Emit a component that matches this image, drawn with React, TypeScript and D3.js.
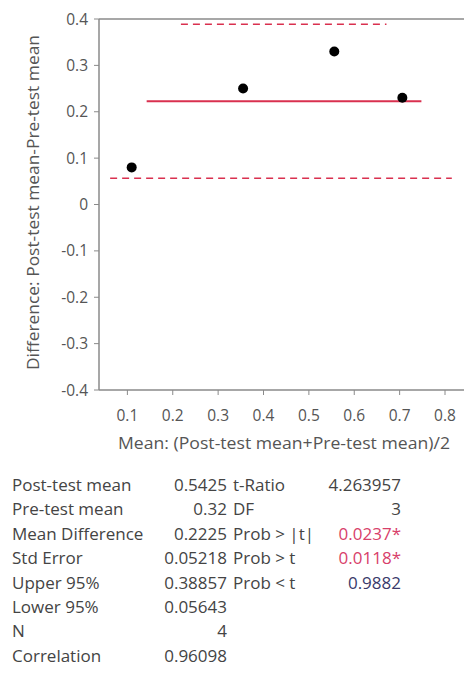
import React from "react";
import * as d3 from "d3";

const pointX = [0.1095, 0.355, 0.556, 0.706];
const pointY = [0.08, 0.25, 0.33, 0.23];
const meanDiff = 0.2225;
const upper95 = 0.38857;
const lower95 = 0.05643;
const meanLineX = [0.1425, 0.748];
const upperLineX = [0.218, 0.671];
const lowerLineX = [0.062, 0.815];
const xTicks = [0.1, 0.2, 0.3, 0.4, 0.5, 0.6, 0.7, 0.8];
const yTicks = [0.4, 0.3, 0.2, 0.1, 0, -0.1, -0.2, -0.3, -0.4];
const yTickLabels = ["0.4", "0.3", "0.2", "0.1", "0", "-0.1", "-0.2", "-0.3", "-0.4"];

const statLabels = ["Post-test mean", "Pre-test mean", "Mean Difference", "Std Error", "Upper 95%", "Lower 95%", "N", "Correlation"];
const statValues = ["0.5425", "0.32", "0.2225", "0.05218", "0.38857", "0.05643", "4", "0.96098"];
const testLabels = ["t-Ratio", "DF", "Prob > |t|", "Prob > t", "Prob < t"];
const testValues = ["4.263957", "3", "0.0237*", "0.0118*", "0.9882"];
const testColors = ["#444", "#444", "#d8406a", "#d8406a", "#3a3a6a"];

export default function App() {
  const x = d3.scaleLinear().domain([0, 0.8]).range([82, 445]);
  const y = d3.scaleLinear().domain([-0.4, 0.4]).range([390, 19]);
  const left = 99, right = 472, top = y(0.4), bottom = y(-0.4);
  const font = "'Open Sans', 'Noto Sans', sans-serif";
  const axisColor = "#8a8a8a";
  const textColor = "#555";
  return (
    <svg width={464} height={687} style={{ position: "absolute", left: 0, top: 0 }} fontFamily={font}>
      <rect x={0} y={0} width={464} height={687} fill="#fff" />
      <line x1={left} x2={right} y1={top} y2={top} stroke={axisColor} strokeWidth={1.5} />
      <line x1={left} x2={left} y1={top} y2={bottom} stroke={axisColor} strokeWidth={1.5} />
      <line x1={left} x2={right} y1={bottom} y2={bottom} stroke={axisColor} strokeWidth={1.5} />
      {yTicks.map((t, i) => (
        <g key={"yt" + i}>
          <line x1={left - 5} x2={left} y1={y(t)} y2={y(t)} stroke={axisColor} />
          <text x={left - 11} y={y(t)} dy="0.36em" textAnchor="end" fontSize={15.5} fill={textColor}>{yTickLabels[i]}</text>
        </g>
      ))}
      {xTicks.map((t, i) => (
        <g key={"xt" + i}>
          <line x1={x(t)} x2={x(t)} y1={bottom} y2={bottom + 5} stroke={axisColor} />
          <text x={x(t)} y={bottom + 31} textAnchor="middle" fontSize={15.5} fill={textColor}>{d3.format(".1f")(t)}</text>
        </g>
      ))}
      <text x={118} y={449} fontSize={15.5} fill={textColor} textLength={332} lengthAdjust="spacingAndGlyphs">Mean: (Post-test mean+Pre-test mean)/2</text>
      <text transform={`translate(39,370) rotate(-90)`} fontSize={15.5} fill={textColor} textLength={335} lengthAdjust="spacingAndGlyphs">Difference: Post-test mean-Pre-test mean</text>
      <line x1={x(upperLineX[0])} x2={x(upperLineX[1])} y1={y(upper95)} y2={y(upper95)} stroke="#d9304f" strokeWidth={1.5} strokeDasharray="7,5" />
      <line x1={x(lowerLineX[0])} x2={x(lowerLineX[1])} y1={y(lower95)} y2={y(lower95)} stroke="#d9304f" strokeWidth={1.5} strokeDasharray="7,5" />
      <line x1={x(meanLineX[0])} x2={x(meanLineX[1])} y1={y(meanDiff)} y2={y(meanDiff)} stroke="#d9304f" strokeWidth={2} />
      {pointX.map((px, i) => (
        <circle key={"p" + i} cx={x(px)} cy={y(pointY[i])} r={5} fill="#000" />
      ))}
      {statLabels.map((s, i) => (
        <g key={"s" + i} fontSize={17} fill="#444">
          <text x={12} y={491 + i * 24.4}>{s}</text>
          <text x={227} y={491 + i * 24.4} textAnchor="end">{statValues[i]}</text>
        </g>
      ))}
      {testLabels.map((s, i) => (
        <g key={"t" + i} fontSize={17}>
          <text x={233} y={491 + i * 24.4} fill="#444">{s}</text>
          <text x={401} y={491 + i * 24.4} textAnchor="end" fill={testColors[i]}>{testValues[i]}</text>
        </g>
      ))}
    </svg>
  );
}
